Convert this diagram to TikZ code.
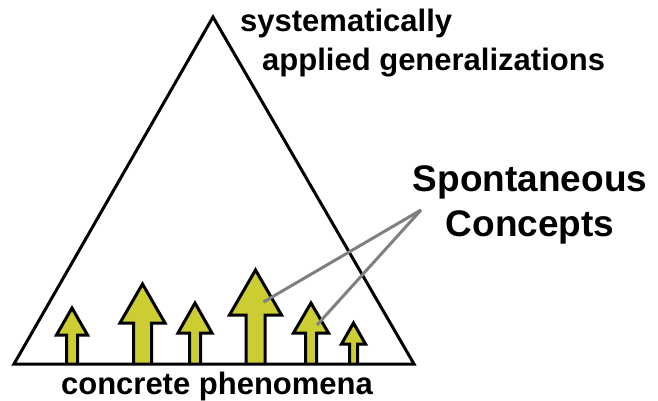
\documentclass[tikz,border=0pt]{standalone}
\usepackage{fontspec}
\setmainfont{Liberation Sans}
\usetikzlibrary{positioning,calc}
\definecolor{arrowfill}{RGB}{204,204,51}
\definecolor{pointergray}{RGB}{128,128,128}

\begin{document}
\begin{tikzpicture}[
    x=1pt, y=-1pt,
    outline/.style={draw=black, line width=3pt, line join=miter},
    uparrow/.style={outline, fill=arrowfill},
    pointer/.style={draw=pointergray, line width=3pt},
    label/.style={font=\bfseries\fontsize{31}{36}\selectfont, inner sep=0pt, anchor=west},
    biglabel/.style={font=\bfseries\fontsize{37}{45}\selectfont, align=center, inner sep=0pt},
]

% Bounding box
\useasboundingbox (0,0) rectangle (658,400);

% Triangle
\coordinate (apex) at (213,17);
\coordinate (left) at (14,364);
\coordinate (right) at (414,364);

% Arrows: centre x / shaft half width / head half width / head base y / tip y / name
\foreach \cx/\sw/\hw/\hb/\tip/\name in {72/5.5/15.5/335/308/a1, 142.5/9/22.5/323/284/a2, 195/5.5/17/333/303/a3, 255.5/9.5/26/315/270/a4, 311/5.5/17.5/333/303/a5, 353.5/4/12/344/323/a6}{
    \draw[uparrow] (\cx-\sw,364) -- (\cx-\sw,\hb) -- (\cx-\hw,\hb) -- (\cx,\tip)
        -- (\cx+\hw,\hb) -- (\cx+\sw,\hb) -- (\cx+\sw,364);
    \coordinate (\name) at (\cx,\hb);
}

\draw[outline] (apex) -- (right) -- (left) -- cycle;

% Labels
\node[label] (top1) at (240,23) {systematically};
\node[label] (top2) at (262,63) {applied generalizations};
\node[label, anchor=center] (bottom) at (217,386) {concrete phenomena};
\node[biglabel] (spont) at (530,205) {Spontaneous\\Concepts};

% Pointers
\coordinate (meet) at (421,210);
\draw[pointer] (meet) -- ($(a4)+(8,-13)$);
\draw[pointer] (meet) -- ($(a5)+(6,-8)$);

\end{tikzpicture}
\end{document}
